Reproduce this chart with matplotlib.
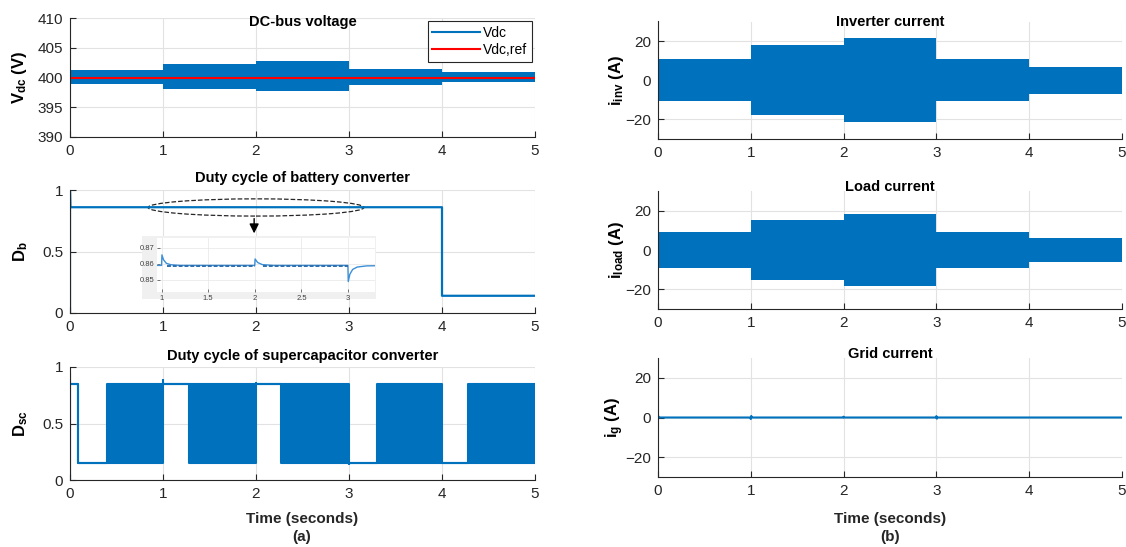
import matplotlib
matplotlib.use('Agg')
import matplotlib.pyplot as plt
from matplotlib.patches import Ellipse, Rectangle

plt.rcParams['font.family'] = ['Liberation Sans', 'DejaVu Sans']
plt.rcParams['mathtext.fontset'] = 'custom'
plt.rcParams['mathtext.rm'] = 'Liberation Sans'
plt.rcParams['mathtext.bf'] = 'Liberation Sans:bold'
plt.rcParams['mathtext.it'] = 'Liberation Sans:italic'

BLUE = '#0072BD'
DARK = '#262626'

# segment edges (s) shared by the load-step signals
seg_t = [0, 1, 2, 3, 4, 5]

# DC bus voltage ripple envelope (V)
vdc_hi = [401.3, 402.3, 402.7, 401.4, 400.9]
vdc_lo = [398.9, 398.1, 397.8, 398.8, 399.2]
vdc_ref = 400

# battery duty cycle
db_t = [0.0, 0.0, 0.004, 4.0, 4.0, 5.0]
db_v = [0.0, 1.0, 0.86, 0.86, 0.14, 0.14]

# zoomed view of the battery duty cycle
ins_t = [0.95, 0.999, 1.003, 1.02, 1.05, 1.1, 1.2, 1.999, 2.003, 2.03, 2.08, 2.2,
         2.999, 3.003, 3.02, 3.05, 3.1, 3.2, 3.3]
ins_v = [0.859, 0.859, 0.8655, 0.8625, 0.8603, 0.8594, 0.859, 0.859, 0.863, 0.8608,
         0.8595, 0.859, 0.859, 0.849, 0.8535, 0.8565, 0.858, 0.8587, 0.8588]

# supercapacitor duty cycle: segments with upper/lower switching envelope
sc_t = [0.0, 0.09, 0.40, 1.00, 1.28, 2.00, 2.27, 3.00, 3.30, 4.00, 4.28, 5.0]
sc_hi = [0.85, 0.15, 0.85, 0.85, 0.85, 0.85, 0.85, 0.15, 0.85, 0.15, 0.85]
sc_lo = [0.85, 0.15, 0.15, 0.85, 0.15, 0.85, 0.15, 0.15, 0.15, 0.15, 0.15]
sc_spike_t = [0.0, 1.0, 2.0, 3.0]
sc_spike_from = [0.0, 0.85, 0.85, 0.15]
sc_spike_to = [0.95, 0.89, 0.87, 0.13]

# current amplitudes (A) per segment
inv_amp = [10.8, 17.9, 21.4, 10.8, 7.0]
load_amp = [9.1, 15.3, 18.4, 9.1, 5.9]

# grid current (A), flat with small blips at the load steps
grid_t = [0.0, 0.005, 0.01, 0.995, 1.0, 1.005, 1.01, 1.995, 2.0, 2.005,
          2.995, 3.0, 3.005, 3.01, 5.0]
grid_v = [0.0, 0.6, 0.0, 0.0, -0.8, 0.8, 0.0, 0.0, 0.4, 0.0,
          0.0, 0.7, -0.6, 0.0, 0.0]

W, H = 1126, 547
fig = plt.figure(figsize=(W / 100, H / 100), dpi=100)


def box(x0, y0, x1, y1):
    return [x0 / W, 1 - y1 / H, (x1 - x0) / W, (y1 - y0) / H]


def style(ax, title, title_off):
    for s in ['top', 'right']:
        ax.spines[s].set_visible(False)
    for s in ['left', 'bottom']:
        ax.spines[s].set_color(DARK)
        ax.spines[s].set_linewidth(0.8)
    ax.tick_params(direction='in', length=4, width=0.8, colors=DARK,
                   labelsize=11, pad=5)
    ax.grid(True, color='#e2e2e2', lw=0.8)
    ax.set_axisbelow(True)
    ax.set_xlim(0, 5)
    ax.set_xticks(range(6))
    ax.text(0.5, 1 + title_off, title, transform=ax.transAxes, ha='center',
            va='center', fontsize=10.5, fontweight='bold', color='black')


def envelope(ax, hi, lo):
    hi = hi + [hi[-1]]
    lo = lo + [lo[-1]]
    ax.fill_between(seg_t, lo, hi, step='post', color=BLUE, lw=0)


# ---- (a) DC-bus voltage
ax = fig.add_axes(box(70, 18, 535, 137))
style(ax, 'DC-bus voltage', -0.03)
envelope(ax, vdc_hi, vdc_lo)
ax.plot([], [], color=BLUE, lw=1.5, label='Vdc')
ax.axhline(vdc_ref, color='#FF0000', lw=1.5, label='Vdc,ref')
ax.set_ylim(390, 410)
ax.set_yticks([390, 395, 400, 405, 410])
ax.set_ylabel(r'$\mathbf{V_{dc}}$ (V)', fontsize=12, fontweight='bold')
ax.yaxis.set_label_coords(-0.088, 0.5)
leg = ax.legend(loc='upper right', fontsize=10, handlelength=3.4,
                handletextpad=0.25, borderaxespad=0.2, fancybox=False,
                framealpha=1, edgecolor=DARK, borderpad=0.35,
                labelspacing=0.25)
leg.get_frame().set_linewidth(0.8)

# ---- (a) battery duty cycle
ax = fig.add_axes(box(70, 190, 535, 313))
style(ax, 'Duty cycle of battery converter', 0.1)
ax.plot(db_t, db_v, color=BLUE, lw=1.6)
ax.set_ylim(0, 1)
ax.set_yticks([0, 0.5, 1])
ax.set_yticklabels(['0', '0.5', '1'])
ax.set_ylabel(r'$\mathbf{D_{b}}$', fontsize=12, fontweight='bold')
ax.yaxis.set_label_coords(-0.085, 0.5)
ax.add_patch(Ellipse((2.0, 0.858), 2.32, 0.14, fill=False, ls='--',
                     lw=0.9, color=DARK))
ax.annotate('', xy=(1.98, 0.625), xytext=(1.98, 0.79),
            arrowprops=dict(arrowstyle='-|>', color='black', lw=1,
                            mutation_scale=14))

fig.patches.append(Rectangle((142 / W, 1 - 299 / H), 234 / W, 63 / H,
                             transform=fig.transFigure, facecolor='#f0f0f0',
                             edgecolor='none', zorder=2))
ins = fig.add_axes(box(157, 238, 375, 292))
ins.set_zorder(3)
ins.plot(ins_t, ins_v, color='#3d8fd6', lw=1)
ins.plot([1.06, 2.0], [0.8589, 0.8589], color='#2d6fae', lw=1.4, ls=(0, (2, 1)))
ins.plot([2.09, 3.0], [0.8589, 0.8589], color='#2d6fae', lw=1.4, ls=(0, (2, 1)))
ins.set_xlim(0.95, 3.29)
ins.set_ylim(0.8425, 0.876)
ins.set_xticks([1, 1.5, 2, 2.5, 3])
ins.set_xticklabels(['1', '1.5', '2', '2.5', '3'])
ins.set_yticks([0.85, 0.86, 0.87])
ins.tick_params(direction='in', length=2, width=0.5, colors='#404040',
                labelsize=5.5, pad=2)
ins.grid(True, color='#e6e6e6', lw=0.5)
for s in ins.spines.values():
    s.set_visible(False)

# ---- (a) supercapacitor duty cycle
ax = fig.add_axes(box(70, 367, 535, 480))
style(ax, 'Duty cycle of supercapacitor converter', 0.1)
hi = sc_hi + [sc_hi[-1]]
lo = sc_lo + [sc_lo[-1]]
ax.fill_between(sc_t, lo, hi, step='post', color=BLUE, lw=0)
ax.plot(sc_t, hi, drawstyle='steps-post', color=BLUE, lw=1.5)
ax.plot(sc_t, lo, drawstyle='steps-post', color=BLUE, lw=1.5)
ax.vlines(sc_spike_t, sc_spike_from, sc_spike_to, color=BLUE, lw=1.5)
ax.set_ylim(0, 1)
ax.set_yticks([0, 0.5, 1])
ax.set_yticklabels(['0', '0.5', '1'])
ax.set_ylabel(r'$\mathbf{D_{sc}}$', fontsize=12, fontweight='bold')
ax.yaxis.set_label_coords(-0.085, 0.5)

# ---- (b) currents
panels = [
    ((658, 21.5, 1122, 139), 'Inverter current', 0.0, inv_amp, r'$\mathbf{i_{inv}}$ (A)'),
    ((658, 191, 1122, 309), 'Load current', 0.03, load_amp, r'$\mathbf{i_{load}}$ (A)'),
    ((658, 358, 1122, 477), 'Grid current', 0.03, None, r'$\mathbf{i_{g}}$ (A)'),
]
for rect, title, off, amp, lab in panels:
    ax = fig.add_axes(box(*rect))
    style(ax, title, off)
    if amp is None:
        ax.plot(grid_t, grid_v, color=BLUE, lw=1.5)
    else:
        envelope(ax, amp, [-a for a in amp])
    ax.set_ylim(-30, 30)
    ax.set_yticks([-20, 0, 20])
    ax.set_ylabel(lab, fontsize=12, fontweight='bold')
    ax.yaxis.set_label_coords(-0.07, 0.5)

for xc, tag in [(302, '(a)'), (890, '(b)')]:
    fig.text(xc / W, 1 - 519 / H, 'Time (seconds)', ha='center', va='center',
             fontsize=11, fontweight='bold', color=DARK)
    fig.text(xc / W, 1 - 537 / H, tag, ha='center', va='center',
             fontsize=11, fontweight='bold', color=DARK)

fig.savefig('out.png', dpi=100)
